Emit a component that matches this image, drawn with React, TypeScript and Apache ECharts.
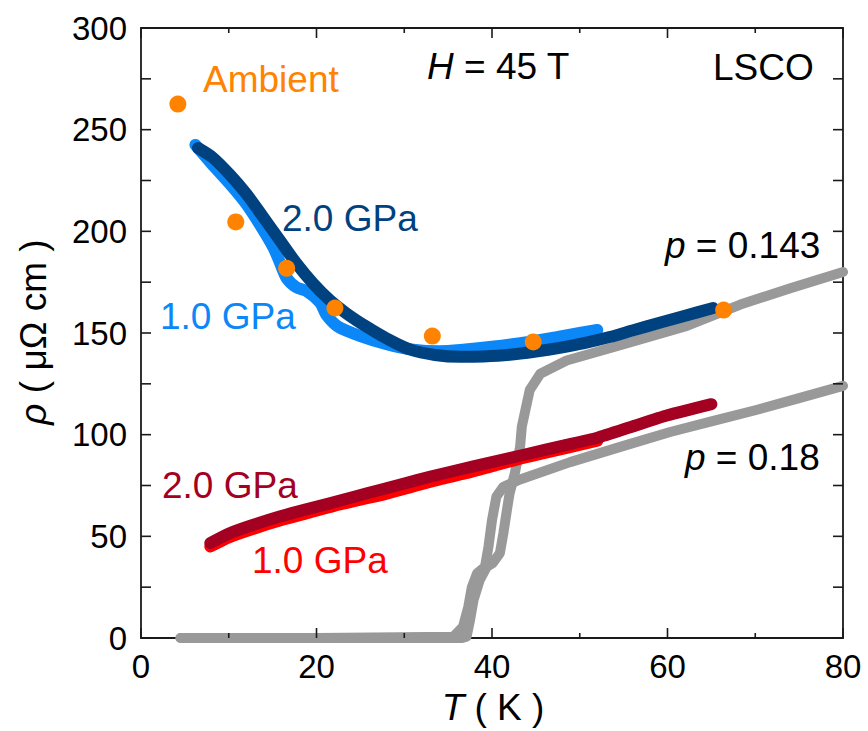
import React, { useEffect, useRef } from "react";
import * as echarts from "echarts";

// ---- data (T in K, rho in μΩ cm) ----
const ambientPoints: [number, number][] = [
  [4.2, 262.6], [10.8, 204.6], [16.6, 181.8], [22.1, 162.3], [33.2, 148.5], [44.7, 145.6], [66.4, 161.3],
];

const blue20GPa: [number, number][] = [
  [6.5, 241], [8.2, 236.2], [10.1, 228], [12.0, 218.5], [13.9, 207.2], [15.8, 195.7], [17.7, 184.3],
  [19.6, 174.4], [21.5, 166.2], [23.4, 159.7], [25.7, 153.1], [28, 147.3], [30.7, 141.8], [33.5, 139.2],
  [36.4, 138.3], [39, 138.5], [42, 139.3], [45, 140.9], [47.7, 142.7], [50.5, 145], [53.4, 148],
  [56.2, 151.5], [59.1, 155], [62, 158.5], [65.2, 162.3],
];

const blue10GPa: [number, number][] = [
  [6.2, 242.5], [7.9, 234], [10.1, 223.5], [12.0, 213.5], [13.6, 203], [15.1, 192], [15.8, 185],
  [16.6, 177], [17.7, 172.5], [18.9, 170.5], [20.4, 165], [21.2, 158.5], [22.5, 153], [25, 148.5],
  [28, 144.5], [31, 141.8], [34, 141], [36.4, 141.6], [40, 143.2], [44, 145.5], [48, 148.5], [52, 151.5],
];

const red20GPa: [number, number][] = [
  [7.9, 46.7], [10.1, 51.5], [12.9, 55.8], [15.8, 59.7], [18.6, 63], [21.5, 66.2], [24.3, 69.5],
  [27.2, 72.8], [30, 76], [32.9, 79.3], [36, 82.5], [40, 86.5], [44, 90.5], [48, 94.5], [52, 98.5],
  [56, 104], [60, 109.5], [65, 115],
];

const red10GPa: [number, number][] = [
  [7.9, 45], [10, 49.5], [13, 54], [16, 58], [19, 61.5], [22, 65], [25, 68], [28, 71],
  [31, 74.5], [34, 78], [37, 81], [40, 84.5], [43, 88], [46, 91], [49, 94], [52, 97],
];

const grayP0143: [number, number][] = [
  [4.5, 0], [20, 0], [36.6, 0], [37.1, 0.6], [37.5, 8.9], [37.9, 18.7], [38.6, 28.5], [39.4, 35],
  [40.1, 36.9], [40.9, 41.8], [41.3, 51.6], [41.7, 63], [42, 71], [42.6, 81], [43.2, 94], [43.4, 104],
  [43.8, 112], [44.3, 122], [45.5, 130], [48.5, 136.5], [55, 144.5], [62.2, 153.5], [68.3, 164],
  [74, 172], [80, 180],
];

const grayP018: [number, number][] = [
  [4.5, 0], [20, 0], [35.6, 0.6], [36.7, 5.6], [37.3, 15.4], [37.7, 25], [38.3, 31.8], [39.2, 35],
  [39.6, 45], [40, 58], [40.5, 69.5], [41.3, 74.4], [43.2, 78], [48.9, 86.5], [55, 94.5],
  [60.3, 101.3], [65, 106.5], [70, 112], [75, 118], [80, 124],
];

const xRange = { min: 0, max: 80, interval: 20 };
const yRange = { min: 0, max: 300, interval: 50 };
const xMajorTicks = [0, 20, 40, 60, 80];
const xMinorTicks = [10, 30, 50, 70];
const yAllTicks = [0, 25, 50, 75, 100, 125, 150, 175, 200, 225, 250, 275, 300];

const FONT = "'Liberation Sans', Arial, sans-serif";
const C_NAVY = "#00417f";
const C_LBLUE = "#0c87f7";
const C_ORANGE = "#ff8300";
const C_DRED = "#a30022";
const C_RED = "#ff0000";
const C_GRAY = "#999999";
const C_AXIS = "#1a1a1a";

function lineSeries(data: [number, number][], color: string, width: number, extra: any = {}) {
  return {
    type: "line",
    data,
    symbol: "none",
    showSymbol: false,
    lineStyle: { color, width, cap: "round", join: "round" },
    emphasis: { disabled: true },
    silent: true,
    ...extra,
  };
}

function axisCommon(showLabel: boolean, isX: boolean) {
  return {
    type: "value",
    axisLine: { show: true, onZero: false, lineStyle: { color: C_AXIS, width: 1.8 } },
    axisTick: { show: false },
    minorTick: { show: false },
    splitLine: { show: false },
    minorSplitLine: { show: false },
    axisLabel: {
      show: showLabel,
      color: "#000",
      fontSize: 33,
      fontFamily: FONT,
      margin: isX ? 12 : 14,
    },
  };
}

// inward ticks on all four sides, positioned through the axes' own scales
function tickSeries(values: number[], dir: "x" | "y", len: number) {
  return {
    type: "custom",
    coordinateSystem: "cartesian2d",
    xAxisIndex: 0,
    yAxisIndex: 0,
    data: values.map((v) => (dir === "x" ? [v, yRange.min] : [xRange.min, v])),
    encode: { x: 0, y: 1 },
    silent: true,
    clip: false,
    z: 20,
    renderItem: (params: any, api: any) => {
      const style = { stroke: C_AXIS, lineWidth: 1.6 };
      if (dir === "x") {
        const v = api.value(0);
        const b = api.coord([v, yRange.min]);
        const t = api.coord([v, yRange.max]);
        return {
          type: "group",
          children: [
            { type: "line", shape: { x1: b[0], y1: b[1], x2: b[0], y2: b[1] - len }, style },
            { type: "line", shape: { x1: t[0], y1: t[1], x2: t[0], y2: t[1] + len }, style },
          ],
        };
      }
      const v = api.value(1);
      const l = api.coord([xRange.min, v]);
      const r = api.coord([xRange.max, v]);
      return {
        type: "group",
        children: [
          { type: "line", shape: { x1: l[0], y1: l[1], x2: l[0] + len, y2: l[1] }, style },
          { type: "line", shape: { x1: r[0], y1: r[1], x2: r[0] - len, y2: r[1] }, style },
        ],
      };
    },
  };
}

function text(x: number, y: number, t: string, color: string, rich?: any, align = "left", fontSize = 37) {
  return {
    type: "text",
    x,
    y,
    z: 100,
    style: {
      text: t,
      fill: color,
      fontSize,
      fontFamily: FONT,
      textAlign: align,
      textVerticalAlign: "middle",
      rich,
    },
  };
}

export default function App() {
  const ref = useRef<HTMLDivElement>(null);
  useEffect(() => {
    if (!ref.current) return;
    const chart = echarts.init(ref.current, undefined, { renderer: "svg" });
    const italic = (color: string, size = 37) => ({
      i: { fontStyle: "italic", fontSize: size, fontFamily: FONT, fill: color, color },
      n: { fontSize: size, fontFamily: FONT, fill: color, color },
    });
    chart.setOption({
      animation: false,
      backgroundColor: "#fff",
      grid: { left: 141, right: 25, top: 28, bottom: 93, containLabel: false },
      xAxis: [
        { ...axisCommon(true, true), position: "bottom", ...xRange },
        { ...axisCommon(false, true), position: "top", ...xRange },
      ],
      yAxis: [
        { ...axisCommon(true, false), position: "left", ...yRange },
        { ...axisCommon(false, false), position: "right", ...yRange },
      ],
      series: [
        lineSeries(grayP018, C_GRAY, 10, { clip: false, z: 1 }),
        lineSeries(grayP0143, C_GRAY, 10, { clip: false, z: 1 }),
        lineSeries(red10GPa, C_RED, 12, { z: 2, smooth: 0.2 }),
        lineSeries(red20GPa, C_DRED, 12, { z: 3, smooth: 0.2 }),
        lineSeries(blue10GPa, C_LBLUE, 12, { z: 4, smooth: 0.25 }),
        lineSeries(blue20GPa, C_NAVY, 12, { z: 5, smooth: 0.3 }),
        {
          type: "scatter",
          data: ambientPoints,
          symbol: "circle",
          symbolSize: 17,
          itemStyle: { color: C_ORANGE, opacity: 1 },
          z: 6,
          silent: true,
          emphasis: { disabled: true },
        },
        tickSeries(xMajorTicks, "x", 10),
        tickSeries(xMinorTicks, "x", 5),
        tickSeries(yAllTicks, "y", 10),
      ],
      graphic: [
        text(203, 79, "Ambient", C_ORANGE),
        text(427, 66, "{i|H}{n| = 45 T}", "#000", italic("#000")),
        text(713, 67, "LSCO", "#000"),
        text(282, 218, "2.0 GPa", C_NAVY),
        text(160, 316, "1.0 GPa", C_LBLUE),
        text(665, 245, "{i|p}{n| = 0.143}", "#000", italic("#000")),
        text(685, 457, "{i|p}{n| = 0.18}", "#000", italic("#000")),
        text(162, 485, "2.0 GPa", C_DRED),
        text(252, 560, "1.0 GPa", C_RED),
        text(493, 707, "{i|T}{n| ( K )}", "#000", italic("#000"), "center"),
        {
          type: "text",
          x: 33,
          y: 332,
          rotation: Math.PI / 2,
          z: 100,
          style: {
            text: "{i|ρ}{n| ( μΩ cm )}",
            fill: "#000",
            fontSize: 37,
            fontFamily: FONT,
            textAlign: "center",
            textVerticalAlign: "middle",
            rich: italic("#000"),
          },
        },
      ],
    });
    return () => chart.dispose();
  }, []);
  return (
    <div
      ref={ref}
      style={{ position: "absolute", left: 0, top: 0, width: 868, height: 731, background: "#fff" }}
    />
  );
}
